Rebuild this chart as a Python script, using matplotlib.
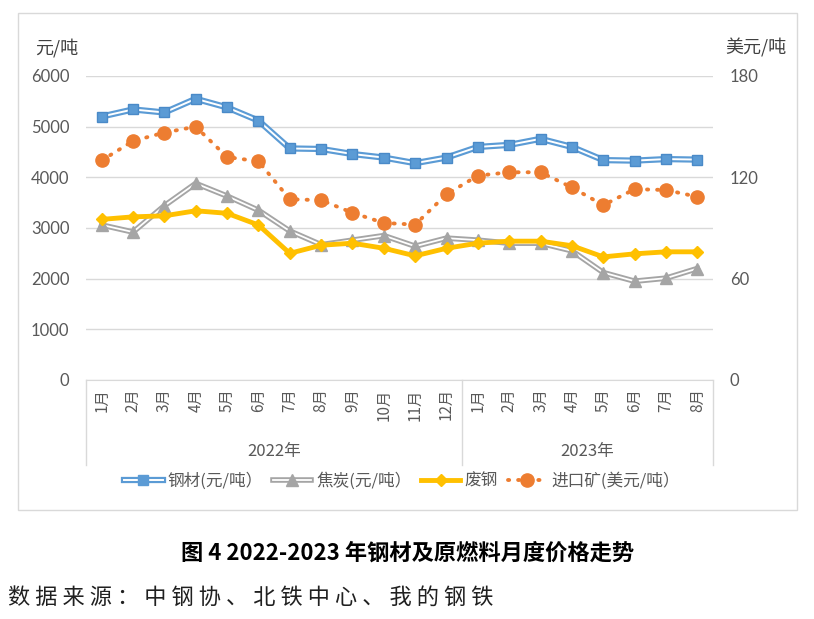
import matplotlib.pyplot as plt
from matplotlib.lines import Line2D
from matplotlib.patches import Rectangle
import matplotlib.transforms as mtransforms

plt.rcParams['font.family'] = ['Lato', 'Noto Sans CJK SC', 'DejaVu Sans']

# months, 2022-01 .. 2023-08
months = ['1月', '2月', '3月', '4月', '5月', '6月', '7月', '8月', '9月', '10月', '11月', '12月',
          '1月', '2月', '3月', '4月', '5月', '6月', '7月', '8月']
years = ['2022年', '2023年']
year_counts = [12, 8]

steel = [5200, 5340, 5280, 5550, 5380, 5120, 4570, 4560, 4460, 4390, 4280, 4390,
         4600, 4640, 4760, 4600, 4340, 4330, 4360, 4350]
coke = [3060, 2920, 3440, 3880, 3630, 3350, 2940, 2670, 2760, 2850, 2640, 2800,
        2760, 2700, 2700, 2550, 2120, 1950, 2010, 2200]
scrap = [3170, 3220, 3240, 3340, 3290, 3060, 2500, 2660, 2700, 2600, 2450, 2600,
         2700, 2740, 2740, 2650, 2430, 2490, 2530, 2530]
ore = [130, 141.5, 146.5, 150, 132, 129.5, 107, 106.5, 99, 93, 92, 110,
       121, 123, 123, 114, 103.5, 113, 112.5, 108.5]

labels = ['钢材(元/吨）', '焦炭(元/吨）', '废钢', '进口矿(美元/吨）']

blue = '#5B9BD5'
grey = '#A5A5A5'
yellow = '#FFC000'
orange = '#ED7D31'
txt = '#595959'

fig = plt.figure(figsize=(8.14, 6.19), dpi=100)

# outer frame of the chart
fig.patches.append(Rectangle((18/814, 1-510/619), 779/814, 497/619, transform=fig.transFigure,
                             fill=False, edgecolor='#D9D9D9', linewidth=1))

ax = fig.add_axes([86/814, 1-380/619, 627/814, 304/619])
ax2 = ax.twinx()

x = list(range(len(months)))

# steel: double blue line
ax.plot(x, steel, color=blue, lw=4.5, zorder=3)
ax.plot(x, steel, color='white', lw=1.4, zorder=4)
ax.plot(x, steel, ls='none', marker='s', ms=7.5, color=blue, mec='#4A8AC8', zorder=5)

# coke: double grey line
ax.plot(x, coke, color=grey, lw=4.0, zorder=3)
ax.plot(x, coke, color='white', lw=1.3, zorder=4)
ax.plot(x, coke, ls='none', marker='^', ms=8.5, color=grey, zorder=5)

# scrap
ax.plot(x, scrap, color=yellow, lw=3.5, marker='D', ms=6.5, zorder=6)

# imported ore, right axis
ax2.plot(x, ore, color=orange, lw=2.8, ls=(0, (0.3, 2.3)), dash_capstyle='round',
         marker='o', ms=9.5, zorder=3)

ax.set_xlim(-0.5, 19.5)
ax.set_ylim(0, 6000)
ax2.set_ylim(0, 180)
ax.set_yticks(range(0, 6001, 1000))
ax2.set_yticks([0, 60, 120, 180])
ax.grid(axis='y', color='#D9D9D9', lw=1)
ax.set_axisbelow(True)

for a in (ax, ax2):
    for s in a.spines.values():
        s.set_visible(False)
    a.tick_params(length=0, labelsize=12, colors=txt)
ax.spines['bottom'].set_visible(True)
ax.spines['bottom'].set_color('#D9D9D9')
ax.tick_params(axis='y', pad=12)
ax2.tick_params(axis='y', pad=12)

ax.set_xticks(x)
ax.set_xticklabels(months, rotation=90, fontsize=11, color=txt, family=['Noto Sans CJK SC'])
ax.tick_params(axis='x', pad=6)

# year group labels and separators
trans = mtransforms.blended_transform_factory(ax.transData, ax.transAxes)
start = -0.5
for yr, n in zip(years, year_counts):
    ax.text(start + n/2, -0.235, yr, transform=trans, ha='center', va='center',
            fontsize=12, color=txt, family=['Noto Sans CJK SC'])
    start += n
for xs in [-0.5, 11.5, 19.5]:
    ax.plot([xs, xs], [0, -0.28], transform=trans, color='#D9D9D9', lw=1, clip_on=False)

# unit labels
fig.text(35/814, 1-48/619, '元/吨', fontsize=13, color='#404040', va='center',
         family=['Noto Sans CJK SC'])
fig.text(725/814, 1-48/619, '美元/吨', fontsize=13, color='#404040', va='center',
         family=['Noto Sans CJK SC'])

# legend
h_steel = (Line2D([], [], color=blue, lw=4.5), Line2D([], [], color='white', lw=1.4),
           Line2D([], [], ls='none', marker='s', ms=7.5, color=blue))
h_coke = (Line2D([], [], color=grey, lw=4.0), Line2D([], [], color='white', lw=1.3),
          Line2D([], [], ls='none', marker='^', ms=8.5, color=grey))
h_scrap = Line2D([], [], color=yellow, lw=3.5, marker='D', ms=6.5)
h_ore = Line2D([], [], color=orange, lw=2.8, ls=(0, (0.3, 2.3)), dash_capstyle='round',
               marker='o', ms=9.5)
fig.legend([h_steel, h_coke, h_scrap, h_ore], labels, loc='center',
           bbox_to_anchor=(402/814, 1-481/619), ncol=4, frameon=False,
           prop={'family': 'Noto Sans CJK SC', 'size': 12}, labelcolor=txt,
           handlelength=2.3, handletextpad=0.3, columnspacing=0.6)

# caption and source
fig.text(408/814, 1-553/619, '图 4 2022-2023 年钢材及原燃料月度价格走势', ha='center', va='center',
         fontsize=16, fontweight='bold', family=['Noto Sans CJK SC'])
fig.text(8/814, 1-597/619, '数 据 来 源 ： 中 钢 协 、 北 铁 中 心 、 我 的 钢 铁', ha='left', va='center',
         fontsize=16, family=['Noto Sans CJK SC'], color='#202020')

fig.savefig('out.png', dpi=100)
